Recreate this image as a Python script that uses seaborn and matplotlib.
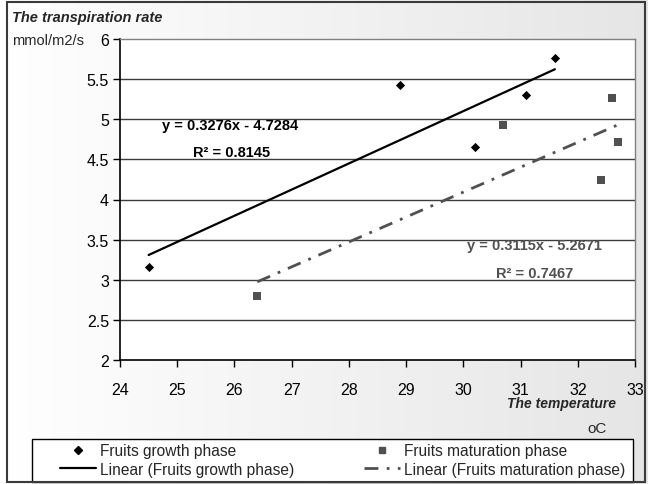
import numpy as np
import pandas as pd
import seaborn as sns
import matplotlib
matplotlib.use("Agg")
import matplotlib.pyplot as plt
from matplotlib.lines import Line2D
from matplotlib.patches import Rectangle

# ---- data ----
growth_temp = [24.5, 28.9, 30.2, 31.1, 31.6]
growth_rate = [3.16, 5.43, 4.65, 5.30, 5.76]
mat_temp = [26.4, 30.7, 32.4, 32.6, 32.7]
mat_rate = [2.80, 4.93, 4.24, 5.26, 4.72]
x_ticks = [24, 25, 26, 27, 28, 29, 30, 31, 32, 33]
y_ticks = [2, 2.5, 3, 3.5, 4, 4.5, 5, 5.5, 6]
y_tick_labels = ["2", "2.5", "3", "3.5", "4", "4.5", "5", "5.5", "6"]
eq_growth = ["y = 0.3276x - 4.7284", "R\u00b2 = 0.8145"]
eq_mat = ["y = 0.3115x - 5.2671", "R\u00b2 = 0.7467"]
labels = ["Fruits growth phase", "Linear (Fruits growth phase)",
          "Fruits maturation phase", "Linear (Fruits maturation phase)"]

sns.set_theme(style="white")
plt.rcParams["font.family"] = ["Liberation Sans", "DejaVu Sans"]

growth = pd.DataFrame({"temp": growth_temp, "rate": growth_rate})
mat = pd.DataFrame({"temp": mat_temp, "rate": mat_rate})

W, H = 648, 485
fig = plt.figure(figsize=(W / 100, H / 100), dpi=100)

# background gradient + outer frame + legend box
bg = fig.add_axes([0, 0, 1, 1], zorder=-10)
grad = np.linspace(1.0, 0.9, 256)[None, :]
bg.imshow(np.dstack([grad, grad, grad]), aspect="auto", extent=[0, 1, 0, 1])
bg.set_xlim(0, 1); bg.set_ylim(0, 1)
bg.axis("off")
bg.add_patch(Rectangle((32 / W, 1 - 483 / H), (633 - 32) / W, (483 - 440) / H,
                       facecolor="white", edgecolor="black", linewidth=1.0))
bg.add_patch(Rectangle((7 / W, 1 - 483 / H), (645 - 7) / W, (483 - 3) / H,
                       fill=False, edgecolor="#3a3a3a", linewidth=1.5))

L, R, T, B = 120, 635, 40, 361
ax = fig.add_axes([L / W, 1 - B / H, (R - L) / W, (B - T) / H])
ax.set_facecolor("white")

dark = "#505050"
sns.scatterplot(data=growth, x="temp", y="rate", ax=ax, marker="D", s=22,
                color="black", edgecolor="black", linewidth=0, zorder=5, legend=False)
sns.scatterplot(data=mat, x="temp", y="rate", ax=ax, marker="s", s=26,
                color=dark, edgecolor=dark, linewidth=0, zorder=5, legend=False)
sns.regplot(data=growth, x="temp", y="rate", ax=ax, scatter=False, ci=None,
            truncate=True, line_kws={"color": "black", "linewidth": 1.6, "zorder": 4})
sns.regplot(data=mat, x="temp", y="rate", ax=ax, scatter=False, ci=None,
            truncate=True, line_kws={"color": dark, "linewidth": 2.0, "zorder": 4,
                                     "linestyle": (0, (5, 3, 1, 3))})

ax.set_xlim(24, 33)
ax.set_ylim(2, 6)
ax.set_xticks(x_ticks)
ax.set_yticks(y_ticks)
ax.set_yticklabels(y_tick_labels)
ax.set_xlabel("")
ax.set_ylabel("")
for yv in y_ticks[1:-1]:
    ax.axhline(yv, color="#3c3c3c", linewidth=1.0, zorder=1)
for s in ["left", "bottom"]:
    ax.spines[s].set_color("black")
    ax.spines[s].set_linewidth(1.2)
for s in ["top", "right"]:
    ax.spines[s].set_color("#808080")
    ax.spines[s].set_linewidth(1.0)
ax.tick_params(axis="both", direction="out", length=5, width=1, color="black",
               labelsize=11.5, labelcolor="black", pad=3)
ax.tick_params(axis="x", pad=11)
ax.tick_params(top=False, right=False, left=True, bottom=True)

# equations
eq_kw = dict(transform=ax.transAxes, ha="center", va="center",
             fontsize=10.5, fontweight="bold")
ax.text(0.2136, 0.732, eq_growth[0], color="black", **eq_kw)
ax.text(0.2175, 0.648, eq_growth[1], color="black", **eq_kw)
ax.text(0.804, 0.358, eq_mat[0], color=dark, **eq_kw)
ax.text(0.806, 0.271, eq_mat[1], color=dark, **eq_kw)

# axis titles
fig.text(12 / W, 1 - 18 / H, "The transpiration rate", ha="left", va="center",
         fontsize=10.5, fontweight="bold", fontstyle="italic")
fig.text(12 / W, 1 - 41 / H, "mmol/m2/s", ha="left", va="center", fontsize=10.5)
fig.text(616 / W, 1 - 404 / H, "The temperature", ha="right", va="center",
         fontsize=10, fontweight="bold", fontstyle="italic")
fig.text(597 / W, 1 - 429 / H, "oC", ha="center", va="center", fontsize=11)

# legend
handles = [
    Line2D([], [], marker="D", color="black", linestyle="none", markersize=4.5),
    Line2D([], [], color="black", linewidth=1.6),
    Line2D([], [], marker="s", color=dark, linestyle="none", markersize=4.5),
    Line2D([], [], color=dark, linewidth=2.0, linestyle=(0, (5, 3, 1, 3))),
]
leg = fig.legend(handles, labels, ncol=2, loc="upper left",
                 bbox_to_anchor=(60 / W, 1 - 483 / H, (625 - 60) / W, (483 - 444) / H),
                 mode="expand", frameon=False, fontsize=11.2,
                 handlelength=2.3, handletextpad=0.25, labelspacing=0.25,
                 borderpad=0.0, borderaxespad=0, columnspacing=1.0)

fig.savefig("out.png", dpi=100)
